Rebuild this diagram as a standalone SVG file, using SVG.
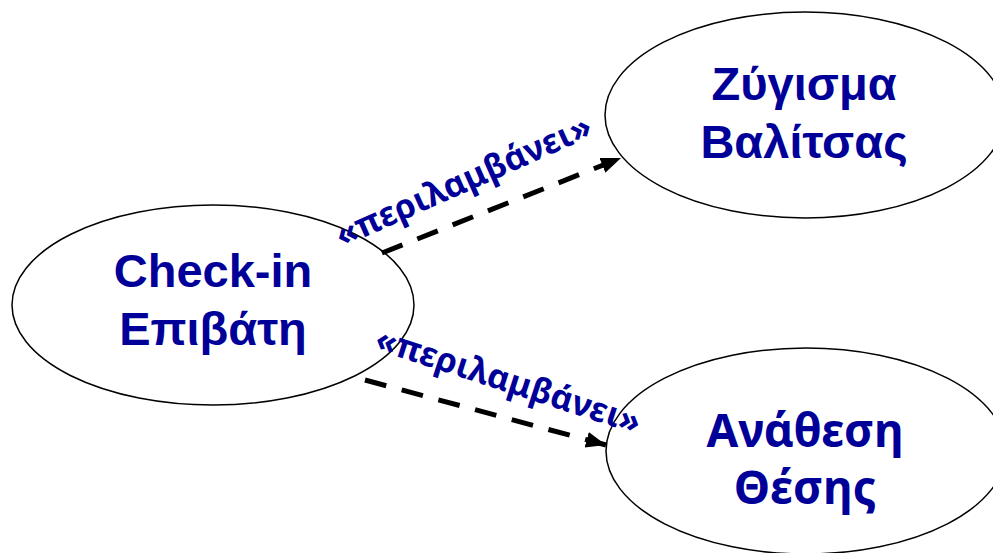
<svg xmlns="http://www.w3.org/2000/svg" width="993" height="553" viewBox="0 0 993 553">
  <style>
    .uc { fill: #ffffff; stroke: #000000; stroke-width: 1.5; }
    .name { fill: #000099; font-family: "Liberation Sans", Arial, sans-serif; font-weight: bold; font-size: 47px; text-anchor: middle; }
    .name2 { fill: #000099; font-family: "Noto Sans", "DejaVu Sans", sans-serif; font-weight: bold; font-size: 46px; text-anchor: middle; }
    .stereo { fill: #000099; font-family: "Noto Sans", "DejaVu Sans", sans-serif; font-weight: bold; font-size: 34px; text-anchor: middle; }
    .dep { fill: none; stroke: #000000; stroke-width: 5; stroke-dasharray: 22 16; marker-end: url(#arrow); }
  </style>
  <defs>
    <marker id="arrow" markerUnits="userSpaceOnUse" markerWidth="22" markerHeight="18" refX="20" refY="8" orient="auto">
      <path d="M0,0 L20,8 L0,16 Z" fill="#000000"/>
    </marker>
  </defs>
  <rect width="993" height="553" fill="#ffffff"/>

  <g id="checkin">
    <ellipse class="uc" cx="213" cy="305" rx="201" ry="100"/>
    <text class="name" x="213" y="287">Check-in</text>
    <text class="name" x="213" y="345">Επιβάτη</text>
  </g>

  <g id="weigh">
    <ellipse class="uc" cx="805" cy="115" rx="200" ry="103"/>
    <text class="name" x="804" y="100">Ζύγισμα</text>
    <text class="name" x="804" y="158">Βαλίτσας</text>
  </g>

  <g id="seat">
    <ellipse class="uc" cx="806" cy="451" rx="200" ry="103"/>
    <text class="name2" x="805" y="447">Ανάθεση</text>
    <text class="name2" x="805" y="504">Θέσης</text>
  </g>

  <g id="connectors">
    <line class="dep" x1="382" y1="253" x2="621" y2="158"/>
    <line class="dep" x1="365" y1="380" x2="606" y2="445"/>
    <text class="stereo" transform="translate(464,182) rotate(-24)" y="10">«περιλαμβάνει»</text>
    <text class="stereo" transform="translate(508,382) rotate(18)" y="10">«περιλαμβάνει»</text>
  </g>
</svg>
